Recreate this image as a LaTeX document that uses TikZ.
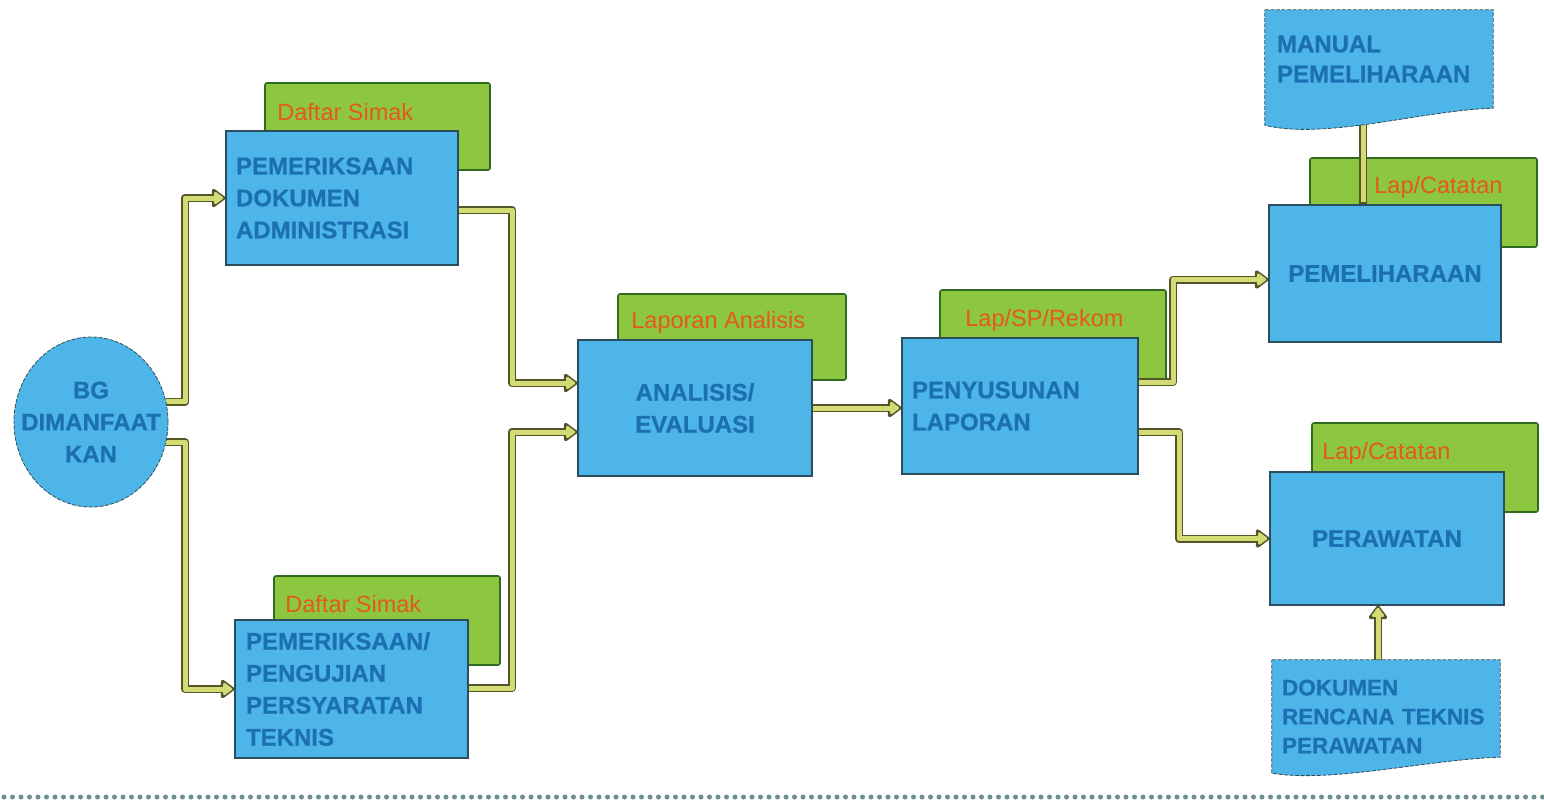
\documentclass[tikz,border=0pt]{standalone}
\usepackage{fontspec}
\setmainfont{Liberation Sans}[BoldFeatures={FakeBold=0.8}]
\usetikzlibrary{arrows.meta,calc,shapes.geometric}
\pgfdeclarelayer{back}
\pgfdeclarelayer{conn}
\pgfdeclarelayer{front}
\pgfsetlayers{back,conn,main,front}
\definecolor{boxblue}{HTML}{4DB5E8}
\definecolor{boxedge}{HTML}{2C4E5C}
\definecolor{txtblue}{HTML}{1C70B2}
\definecolor{grn}{HTML}{8DC63F}
\definecolor{grnedge}{HTML}{2E6A22}
\definecolor{otxt}{HTML}{E4591D}
\definecolor{cdark}{HTML}{55552A}
\definecolor{cyel}{HTML}{D3DC74}
\definecolor{dotc}{HTML}{6E8E94}
\newcommand\yarrow[1]{\draw[connout]#1;\draw[connin]#1;}
\newcommand\yplain[1]{\draw[connout,-]#1;\draw[connin,-]#1;}
\begin{document}
\begin{tikzpicture}[x=1pt,y=-1pt,
  gbox/.style 2 args={rectangle, rounded corners=2pt, fill=grn, draw=grnedge, line width=1.6pt, minimum width=#1, minimum height=#2, inner sep=0pt},
  bbox/.style 2 args={rectangle, fill=boxblue, draw=boxedge, line width=1.2pt, minimum width=#1, minimum height=#2, inner xsep=10pt, inner ysep=0pt, text=txtblue, font=\fontsize{24}{32}\selectfont\bfseries},
  otext/.style={text=otxt, font=\fontsize{23.5}{26}\selectfont, inner sep=0pt, anchor=west},
  connout/.style={draw=cdark, line width=8pt, line join=round, -{Triangle[length=15pt,width=21pt,round]}},
  connin/.style={draw=cyel, line width=5pt, line join=round, shorten >=2.2pt, -{Triangle[length=10pt,width=14pt,round]}},
  doc/.style={fill=boxblue, draw=boxedge, line width=0.8pt, dash pattern=on 4pt off 1.5pt},
  dtext/.style={text=txtblue, font=\fontsize{24}{30}\selectfont\bfseries, align=left, inner ysep=0pt}
]
\useasboundingbox (0,0) rectangle (1544,807);
\begin{pgfonlayer}{back}
\fill[white] (0,0) rectangle (1544,807);
% green (output) boxes
\node[gbox={225pt}{87pt}] (g1) at (377.5,126.5) {};
\node[gbox={226pt}{89pt}] (g2) at (387,620.5) {};
\node[gbox={228pt}{86pt}] (g3) at (732,337) {};
\node[gbox={226pt}{90pt}] (g4) at (1053,335) {};
\node[gbox={227pt}{89pt}] (g5) at (1423.5,202.5) {};
\node[gbox={226pt}{89pt}] (g6) at (1425,467.5) {};
\end{pgfonlayer}

% main nodes
\node[ellipse, fill=boxblue, draw=boxedge, line width=0.8pt, dash pattern=on 4pt off 1.5pt, minimum width=154pt, minimum height=170pt, inner xsep=-30pt, inner ysep=0pt, text=txtblue, font=\fontsize{24}{32}\selectfont\bfseries, align=center] (c) at (91,422) {BG\\DIMANFAAT\\KAN};
\node[bbox={232pt}{134pt}, text width=212pt, align=left] (b1) at (342,198) {PEMERIKSAAN\\DOKUMEN\\ADMINISTRASI};
\node[bbox={233pt}{138pt}, text width=211pt, inner xsep=11pt, align=left] (b2) at (351.5,689) {PEMERIKSAAN/\\PENGUJIAN\\PERSYARATAN\\TEKNIS};
\node[bbox={234pt}{136pt}, text width=214pt, align=center] (b3) at (695,408) {ANALISIS/\\EVALUASI};
\node[bbox={236pt}{136pt}, text width=216pt, align=left] (b4) at (1020,406) {PENYUSUNAN\\LAPORAN};
\node[bbox={232pt}{137pt}, text width=212pt, align=center] (b5) at (1385,273.5) {PEMELIHARAAN};
\node[bbox={234pt}{133pt}, text width=214pt, align=center] (b6) at (1387,538.5) {PERAWATAN};

% documents
\begin{pgfonlayer}{front}
\node[dtext, minimum width=228pt, minimum height=98pt, text width=204pt, inner xsep=12pt] (d1) at (1379,59) {MANUAL\\PEMELIHARAAN};
\node[dtext, font=\fontsize{22.5}{29}\selectfont\bfseries, minimum width=228pt, minimum height=113pt, text width=208pt, inner xsep=10pt] (d2) at (1386,716.5) {DOKUMEN\\RENCANA TEKNIS\\PERAWATAN};
\end{pgfonlayer}
\path[doc] (d1.north west) -- (d1.north east) -- (d1.south east)
  .. controls ($(d1.south east)+(-70,2)$) and ($(d1.south west)+(60,32)$) .. ($(d1.south west)+(0,17)$) -- cycle;
\path[doc] (d2.north west) -- (d2.north east) -- ($(d2.south east)+(0,-16)$)
  .. controls ($(d2.south east)+(-70,-14)$) and ($(d2.south west)+(60,10)$) .. (d2.south west) -- cycle;

% orange labels
\node[otext] (t1) at ($(g1.north west)+(13,30)$) {Daftar Simak};
\node[otext] (t2) at ($(g2.north west)+(12,29)$) {Daftar Simak};
\node[otext] (t3) at ($(g3.north west)+(14,29)$) {Laporan Analisis};
\node[otext] (t4) at ($(g4.north west)+(26,31)$) {Lap/SP/Rekom};
\node[otext] (t5) at ($(g5.north west)+(65,30)$) {Lap/Catatan};
\node[otext] (t6) at ($(g6.north west)+(11,31)$) {Lap/Catatan};

% connectors
\coordinate (k1) at (185,0);
\coordinate (k2) at (512,0);
\coordinate (k3) at (1173,0);
\coordinate (k4) at (1179,0);
\coordinate (s3) at ($(b1.east)+(0,12)$);
\coordinate (e3) at ($(b3.west)+(0,-25)$);
\coordinate (s4) at ($(b2.east)+(0,-1)$);
\coordinate (e4) at ($(b3.west)+(0,24)$);
\coordinate (s6) at ($(b4.east)+(0,-24)$);
\coordinate (e6) at ($(b5.west)+(0,6)$);
\coordinate (s7) at ($(b4.east)+(0,26)$);
\coordinate (m1) at (1363,118);
\coordinate (m2) at (1378,668);
\begin{pgfonlayer}{conn}
\yarrow{(c.15) -- (k1 |- c.15) |- (b1.west)}
\yarrow{(c.-15) -- (k1 |- c.-15) |- (b2.west)}
\yarrow{(s3) -- (k2 |- s3) |- (e3)}
\yarrow{(s4) -- (k2 |- s4) |- (e4)}
\yarrow{(b3.east) -- (b3.east -| b4.west)}
\yarrow{(s6) -- (k3 |- s6) |- (e6)}
\yarrow{(s7) -- (k4 |- s7) |- (b6.west)}
\yplain{(m1) -- (m1 |- b5.north)}
\yarrow{(m2) -- (m2 |- b6.south)}
\end{pgfonlayer}

% dotted footer line
\coordinate (fl) at (4,797);
\coordinate (fr) at (1544,797);
\draw[dotc, line width=5pt, line cap=round, dash pattern=on 0pt off 8.5pt] (fl) -- (fr);
\end{tikzpicture}
\end{document}
